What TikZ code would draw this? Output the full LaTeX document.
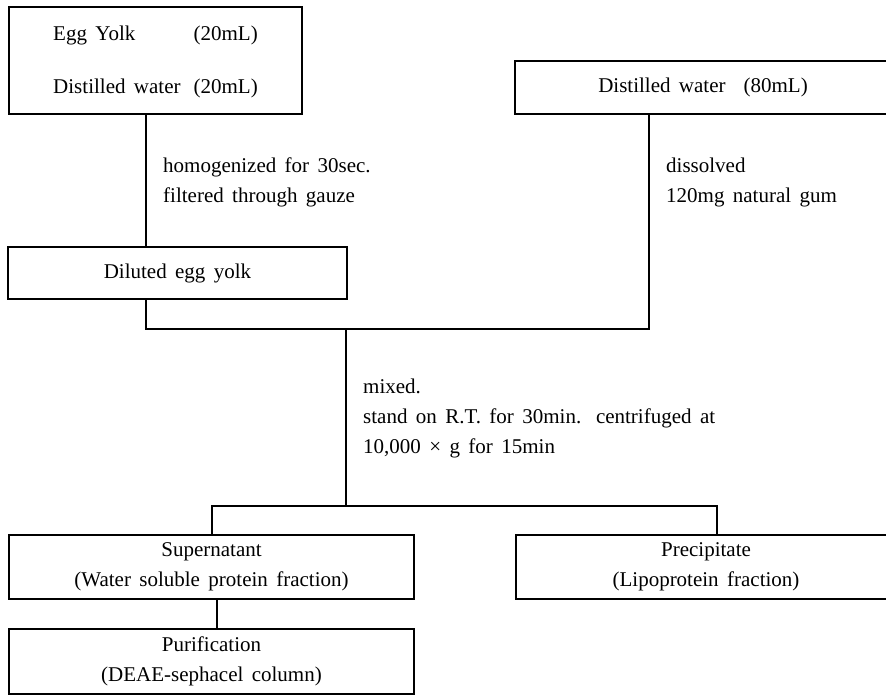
\documentclass[tikz,border=0pt]{standalone}
\usepackage{fontspec}
\setmainfont{Liberation Serif}
\newcommand\flowfont{\fontsize{21}{30}\selectfont\spaceskip=.4em\relax\xspaceskip=.7em\relax}
\tikzset{
  bx/.style={draw, line width=2.8pt, inner sep=0pt, align=center, font=\flowfont},
  lb/.style={anchor=west, align=left, inner sep=0pt, font=\flowfont},
  ln/.style={line width=2.8pt}
}
\begin{document}
\begin{tikzpicture}[x=1pt,y=-1pt]
\clip (0,0) rectangle (886,694);
\node[bx, minimum width=293, minimum height=107] (bx0) at (155.5,60.5){\begin{tabular}{@{}l@{\hspace{13pt}}l@{}}Egg Yolk & (20mL)\\[23pt] Distilled water & (20mL)\end{tabular}};
\node[bx, minimum width=376, minimum height=53] (bx1) at (703,87.5){Distilled water\hspace{18pt}(80mL)};
\node[bx, minimum width=339, minimum height=52] (bx2) at (177.5,273){Diluted egg yolk};
\node[bx, minimum width=405, minimum height=64] (bx3) at (211.5,567){Supernatant\\(Water soluble protein fraction)};
\node[bx, minimum width=380, minimum height=64] (bx4) at (706,567){Precipitate\\(Lipoprotein fraction)};
\node[bx, minimum width=405, minimum height=65] (bx5) at (211.5,661.5){Purification\\(DEAE-sephacel column)};
\coordinate (jn0) at (146,329);
\coordinate (jn1) at (649,329);
\coordinate (jn2) at (346,329);
\coordinate (jn3) at (346,506);
\coordinate (jn4) at (212,506);
\coordinate (jn5) at (717,506);
\coordinate (jn6) at (217,600);
\draw[ln](bx0.south -| jn0) -- (bx2.north -| jn0);
\draw[ln](bx2.south -| jn0) -- (jn0) -- (jn1) -- (bx1.south -| jn1);
\draw[ln](jn2) -- (jn3);
\draw[ln](bx3.north -| jn4) -- (jn4) -- (jn5) -- (bx4.north -| jn5);
\draw[ln](bx3.south -| jn6) -- (bx5.north -| jn6);
\node[lb] (lb0) at (163,182){homogenized for 30sec.\\filtered through gauze};
\node[lb] (lb1) at (666,182){dissolved\\120mg natural gum};
\node[lb] (lb2) at (363,418.5){mixed.\\stand on R.T. for 30min. centrifuged at\\10,000 × g for 15min};
\end{tikzpicture}
\end{document}
